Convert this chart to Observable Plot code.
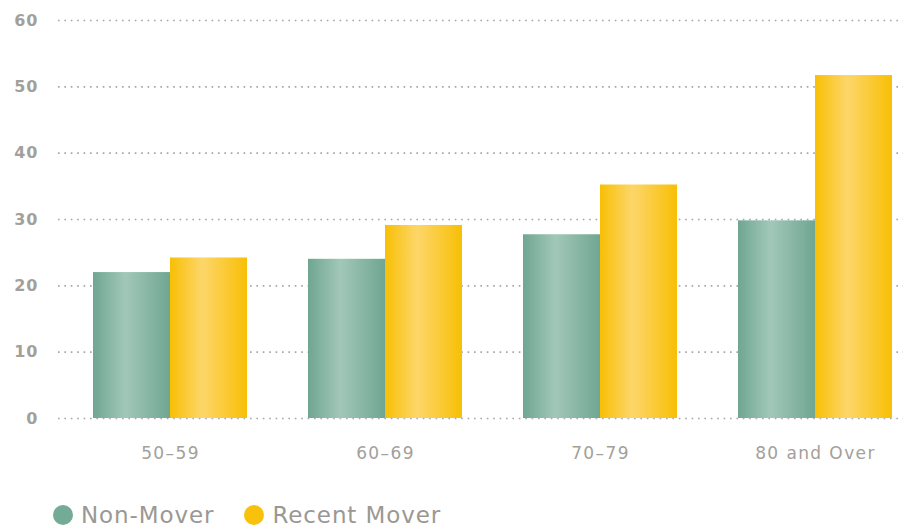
<!DOCTYPE html>
<html>
<head>
<meta charset="utf-8">
<script src="https://cdn.jsdelivr.net/npm/d3@7"></script>
<script src="https://cdn.jsdelivr.net/npm/@observablehq/plot@0.6"></script>
<style>
  body { margin: 0; background: #fff; font-family: "DejaVu Sans", sans-serif; }
  #legend { display: flex; align-items: center; margin-top: 21px; height: 28px; padding-left: 53px; color: #9b9893; font-size: 23px; letter-spacing: 0.9px; }
  .item { display: flex; align-items: center; margin-right: 30px; }
  .dot { width: 20px; height: 20px; border-radius: 50%; margin-right: 8px; }
  svg text { letter-spacing: 1px; }
  svg g[aria-label="x-axis tick label"] text { letter-spacing: 1.4px; }
</style>
</head>
<body>
<div id="chart"></div>
<div id="legend"></div>
<script>
const groups = ["50–59", "60–69", "70–79", "80 and Over"];
const series = ["Non-Mover", "Recent Mover"];
const nonMover = [22, 24, 27.7, 29.8];
const recentMover = [24.2, 29.1, 35.2, 51.7];
const yTicks = [0, 10, 20, 30, 40, 50, 60];
const colors = ["#74ab97", "#f8c10c"];

const table = [];
groups.forEach((g, i) => {
  table.push({group: g, series: series[0], value: nonMover[i]});
  table.push({group: g, series: series[1], value: recentMover[i]});
});

const chart = Plot.plot({
  width: 903,
  height: 480,
  marginTop: 20,
  marginBottom: 62,
  marginLeft: 58,
  marginRight: 0,
  style: {fontFamily: '"DejaVu Sans", sans-serif', color: "#9b9893", background: "#fff"},
  x: {domain: groups, range: [92, 892], paddingInner: 0.285, paddingOuter: 0, label: null},
  y: {domain: [0, 60], label: null},
  marks: [
    Plot.ruleY(yTicks, {stroke: "#8f8f95", strokeDasharray: "1.6,4.8", strokeWidth: 1.6, strokeOpacity: 0.8}),
    Plot.barY(table.filter(d => d.series === series[0]), {x: "group", y: "value", fill: "url(#gradTeal)", insetRight: 77}),
    Plot.barY(table.filter(d => d.series === series[1]), {x: "group", y: "value", fill: "url(#gradYellow)", insetLeft: 77}),
    Plot.axisY({ticks: yTicks, tickSize: 0, tickPadding: 20, fontSize: 16, fill: "#a39f9a", fontWeight: "bold"}),
    Plot.axisX({tickSize: 0, tickPadding: 28, fontSize: 17, fill: "#a39f9a"})
  ]
});

const ns = "http://www.w3.org/2000/svg";
const defs = document.createElementNS(ns, "defs");
function grad(id, edge, mid) {
  const lg = document.createElementNS(ns, "linearGradient");
  lg.setAttribute("id", id);
  lg.setAttribute("x1", "0"); lg.setAttribute("x2", "1");
  lg.setAttribute("y1", "0"); lg.setAttribute("y2", "0");
  [[0, edge], [0.42, mid], [1, edge]].forEach(([o, c]) => {
    const s = document.createElementNS(ns, "stop");
    s.setAttribute("offset", o);
    s.setAttribute("stop-color", c);
    lg.appendChild(s);
  });
  defs.appendChild(lg);
}
grad("gradTeal", "#6fa692", "#a2c7b8");
grad("gradYellow", "#f8bf05", "#fdd66a");
chart.insertBefore(defs, chart.firstChild);
document.getElementById("chart").appendChild(chart);

const legend = document.getElementById("legend");
series.forEach((s, i) => {
  const item = document.createElement("div");
  item.className = "item";
  const dot = document.createElement("div");
  dot.className = "dot";
  dot.style.background = colors[i];
  const label = document.createElement("span");
  label.textContent = s;
  item.appendChild(dot);
  item.appendChild(label);
  legend.appendChild(item);
});
</script>
</body>
</html>
